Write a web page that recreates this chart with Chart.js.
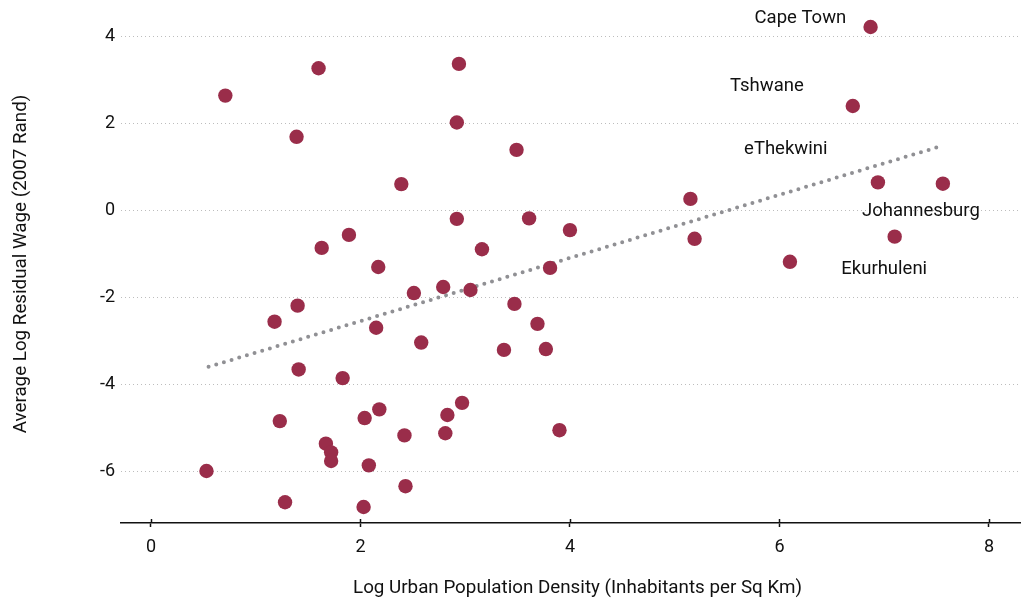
<!DOCTYPE html>
<html>
<head>
<meta charset="utf-8">
<script src="https://cdn.jsdelivr.net/npm/chart.js@4"></script>
<style>
  html, body { margin: 0; padding: 0; background: #fff; overflow: hidden; }
  /* plot area runs slightly past the right edge, as in the original */
  #clip { width: 1021px; height: 600px; overflow: hidden; }
  #wrap { width: 1034px; height: 600px; }
</style>
</head>
<body>
<div id="clip"><div id="wrap"><canvas id="scatter"></canvas></div></div>
<script>
// Log urban population density vs average log residual wage
const densityX = [0.53, 0.71, 1.18, 1.23, 1.28, 1.39, 1.40, 1.41, 1.60, 1.63,
  1.67, 1.72, 1.72, 1.83, 1.89, 2.04, 2.03, 2.08, 2.15, 2.17,
  2.18, 2.39, 2.42, 2.43, 2.51, 2.58, 2.79, 2.81, 2.83, 2.92,
  2.92, 2.94, 2.97, 3.05, 3.16, 3.37, 3.47, 3.49, 3.61, 3.69,
  3.77, 3.81, 3.90, 4.00, 5.15, 5.19, 6.10, 6.70, 6.87, 6.94,
  7.10, 7.56];
const wageY = [-6.00, 2.65, -2.56, -4.85, -6.72, 1.70, -2.19, -3.66, 3.28, -0.86,
  -5.37, -5.57, -5.77, -3.86, -0.56, -4.78, -6.83, -5.87, -2.70, -1.30,
  -4.58, 0.61, -5.18, -6.35, -1.90, -3.04, -1.76, -5.13, -4.71, 2.03,
  -0.19, 3.38, -4.43, -1.83, -0.89, -3.21, -2.15, 1.40, -0.18, -2.61,
  -3.19, -1.32, -5.06, -0.45, 0.27, -0.65, -1.18, 2.41, 4.23, 0.65,
  -0.60, 0.62];

// fitted trend (two end points)
const trendX = [0.55, 7.55];
const trendY = [-3.60, 1.49];

// metro labels, anchored in data units
const cityNames = ['Cape Town', 'Tshwane', 'eThekwini', 'Johannesburg', 'Ekurhuleni'];
const cityLabelX = [6.20, 5.88, 6.06, 7.35, 7.00];
const cityLabelY = [4.42, 2.86, 1.40, -0.01, -1.35];

const xTicks = [0, 2, 4, 6, 8];
const yTicks = [-6, -4, -2, 0, 2, 4];

const FONT = "Roboto, 'Noto Sans', sans-serif";
const INK = '#111';

const cityLabels = {
  id: 'cityLabels',
  afterDatasetsDraw(chart) {
    const { ctx, scales: { x, y } } = chart;
    ctx.save();
    ctx.fillStyle = INK;
    ctx.font = '18.5px ' + FONT;
    ctx.textAlign = 'center';
    ctx.textBaseline = 'middle';
    cityNames.forEach((name, i) => {
      ctx.fillText(name, x.getPixelForValue(cityLabelX[i]), y.getPixelForValue(cityLabelY[i]));
    });
    // tick marks poke a little above the axis line too
    const base = chart.chartArea.bottom;
    ctx.strokeStyle = INK;
    ctx.lineWidth = 1.5;
    x.ticks.forEach(t => {
      const px = Math.round(x.getPixelForValue(t.value)) + 0.5;
      ctx.beginPath();
      ctx.moveTo(px, base - 4);
      ctx.lineTo(px, base);
      ctx.stroke();
    });
    ctx.restore();
  }
};

new Chart(document.getElementById('scatter'), {
  type: 'scatter',
  data: {
    datasets: [
      {
        data: densityX.map((v, i) => ({ x: v, y: wageY[i] })),
        backgroundColor: '#9a2d4a',
        borderWidth: 0,
        pointRadius: 7.2,
        order: 1,
      },
      {
        type: 'line',
        data: trendX.map((v, i) => ({ x: v, y: trendY[i] })),
        borderColor: '#909094',
        borderWidth: 4,
        borderDash: [0, 8],
        borderCapStyle: 'round',
        pointRadius: 0,
        fill: false,
        order: 2,
      }
    ]
  },
  options: {
    responsive: true,
    maintainAspectRatio: false,
    animation: false,
    layout: { autoPadding: false, padding: { top: 5, right: 0, left: 0, bottom: 0 } },
    plugins: {
      legend: { display: false },
      tooltip: { enabled: false },
    },
    scales: {
      x: {
        type: 'linear',
        min: -0.286,
        max: 8.43,
        afterBuildTicks: axis => { axis.ticks = xTicks.map(v => ({ value: v })); },
        afterFit: s => { s.height = 77; s.paddingLeft = 0; s.paddingRight = 0; },
        grid: {
          drawOnChartArea: false,
          drawTicks: true,
          tickLength: 4,
          tickColor: INK,
          tickWidth: 1.5,
        },
        border: { display: true, color: INK, width: 1.5 },
        ticks: {
          color: INK,
          padding: 9.5,
          font: { size: 18, family: FONT },
        },
        title: {
          display: true,
          text: 'Log Urban Population Density (Inhabitants per Sq Km)',
          color: INK,
          font: { size: 18.8, family: FONT },
          padding: { top: 19, bottom: 0 },
        },
      },
      y: {
        min: -7.198,
        max: 4.737,
        afterBuildTicks: axis => { axis.ticks = yTicks.map(v => ({ value: v })); },
        afterFit: s => { s.width = 121; s.paddingTop = 0; s.paddingBottom = 0; },
        grid: {
          color: '#bdbdbd',
          lineWidth: 1,
          drawTicks: false,
        },
        border: { display: false, dash: [1, 3] },
        ticks: {
          color: INK,
          padding: 6,
          font: { size: 18, family: FONT },
        },
        title: {
          display: true,
          text: 'Average Log Residual Wage (2007 Rand)',
          color: INK,
          font: { size: 18.8, family: FONT },
          padding: { top: 10, bottom: 10 },
        },
      }
    }
  },
  plugins: [cityLabels]
});
</script>
</body>
</html>
